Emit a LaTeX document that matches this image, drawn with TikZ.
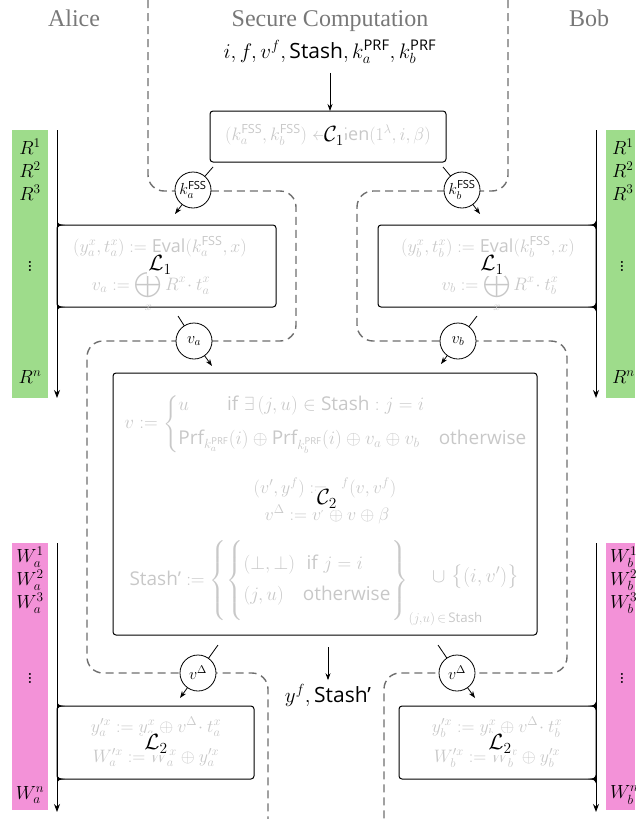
\RequirePackage{fix-cm}
\documentclass[tikz,border=0pt]{standalone}
\usepackage{amsmath,amssymb}
\usepackage{fontspec}
\newfontfamily\titlefont{Liberation Serif}
\newfontfamily\sanfont{Open Sans}
\usetikzlibrary{arrows.meta,calc}
\newcommand{\sfx}[1]{\text{\sanfont #1}}
\definecolor{boxtext}{RGB}{200,200,200}
\definecolor{titlegray}{RGB}{120,120,120}
\definecolor{dashgray}{RGB}{110,110,110}
\definecolor{rgreen}{RGB}{158,220,139}
\definecolor{wpink}{RGB}{243,146,216}
\newcommand{\wedgeR}[2]{\fill (#1,#2-4.5) .. controls (#1+1.5,#2-0.8) .. (#1+8,#2) .. controls (#1+1.5,#2+0.8) .. (#1,#2+4.5) -- cycle;}
\newcommand{\wedgeL}[2]{\fill (#1,#2-4.5) .. controls (#1-1.5,#2-0.8) .. (#1-8,#2) .. controls (#1-1.5,#2+0.8) .. (#1,#2+4.5) -- cycle;}
\begin{document}
\begin{tikzpicture}[x=1pt,y=-1pt,
  every node/.style={inner sep=0pt, outer sep=0pt},
  title/.style={font=\titlefont\fontsize{24}{28}\selectfont, text=titlegray, anchor=base},
  mth/.style={font=\fontsize{21}{25}\selectfont},
  box/.style={draw=black, line width=1pt, rounded corners=3pt},
  gtext/.style={text=boxtext, font=\fontsize{18}{22}\selectfont, anchor=base},
  lbl/.style={fill=white, inner sep=1.5pt, font=\fontsize{22}{26}\selectfont},
  circ/.style={circle, draw=black, line width=0.8pt, fill=white, minimum size=36pt, font=\fontsize{16}{19}\selectfont},
  dsh/.style={draw=dashgray, line width=1.4pt, dash pattern=on 8pt off 5pt, rounded corners=16pt},
  arr/.style={-{Stealth[length=7pt,width=5pt]}, line width=0.8pt},
  con/.style={line width=0.8pt},
  vline/.style={-{Stealth[length=8pt,width=6pt]}, line width=1pt},
  side/.style={font=\fontsize{19}{23}\selectfont, anchor=center},
  dots/.style={font=\fontsize{25}{30}\selectfont, anchor=center}
]
\useasboundingbox (0,0) rectangle (635,819);

% side bars
\fill[rgreen] (12,130) rectangle (48,398);
\fill[rgreen] (606,130) rectangle (635,398);
\fill[wpink] (12,543) rectangle (48,810);
\fill[wpink] (606,543) rectangle (635,810);

% titles
\node[title] (alice) at (74,26) {Alice};
\node[title] (sc) at (330,26) {Secure Computation};
\node[title] (bob) at (589,26) {Bob};

% dashed separators
\draw[dsh] (148,0) -- (148,191) -- (296,191) -- (296,341) -- (87,341) -- (87,673) -- (268,673) -- (268,819);
\draw[dsh] (508,0) -- (508,191) -- (357,191) -- (357,341) -- (567,341) -- (567,673) -- (384,673) -- (384,819);

% input
\node[mth, anchor=base] (inp) at (330,58) {$i, f, v^f, \sfx{Stash}, k_a^{\sfx{PRF}}, k_b^{\sfx{PRF}}$};

% C1
\node[box, minimum width=236pt, minimum height=51pt] (c1) at (328,136.5) {};
\node[gtext] (c1t) at (328,140) {$(k_a^{\sfx{FSS}},k_b^{\sfx{FSS}}) \leftarrow \sfx{Gen}(1^\lambda,i,\beta)$};
\node[lbl] (c1l) at (334,136) {$\mathcal{C}_1$};
\draw[arr] (inp.south) ++(0,9) -- (inp.south |- c1.north);

% L1 left
\node[box, minimum width=219pt, minimum height=82pt] (l1a) at (166.5,266) {};
\node[gtext] (l1at1) at (160,252) {$(y_a^x,t_a^x) := \sfx{Eval}(k_a^{\sfx{FSS}},x)$};
\node[gtext] (l1at2) at (151,290) {$v_a := \displaystyle\bigoplus_x R^x\!\cdot t_a^x$};
\node[lbl] (l1al) at (160,265) {$\mathcal{L}_1$};

% L1 right
\node[box, minimum width=218pt, minimum height=82pt] (l1b) at (487,266) {};
\node[gtext] (l1bt1) at (488,252) {$(y_b^x,t_b^x) := \sfx{Eval}(k_b^{\sfx{FSS}},x)$};
\node[gtext] (l1bt2) at (500,290) {$v_b := \displaystyle\bigoplus_x R^x\!\cdot t_b^x$};
\node[lbl] (l1bl) at (492,265) {$\mathcal{L}_1$};

% C2
\node[box, minimum width=424pt, minimum height=262pt] (c2) at (325,504) {};
\node[text=boxtext, font=\fontsize{19}{23}\selectfont] (c2t1) at (326,424) {$v := \left\{\begin{array}{@{}l@{}} u\qquad \sfx{if}\ \exists\,(j,u)\in\sfx{Stash} : j=i\\[11pt] \sfx{Prf}_{k_a^{\sfx{PRF}}}(i)\oplus\sfx{Prf}_{k_b^{\sfx{PRF}}}(i)\oplus v_a\oplus v_b\quad \sfx{otherwise}\end{array}\right.$};
\node[gtext] (c2t2) at (325,493) {$(v',y^f) := \phantom{\sfx{F}}^f(v,v^f)$};
\node[gtext] (c2t3) at (327,520) {$v^\Delta := v'\oplus v\oplus\beta$};
\node[text=boxtext, font=\fontsize{19}{23}\selectfont, anchor=east] (c2t4) at (409,583) {$\sfx{Stash’} := \left\{\left\{\vrule height 36pt depth 36pt width 0pt\begin{array}{@{}l@{}} (\bot,\bot)\ \ \sfx{if}\ j=i\\[8pt] (j,u)\quad \sfx{otherwise}\end{array}\right.\right\}_{\rlap{$\scriptstyle (j,u)\,\in\,\sfx{Stash}$}}$};
\node[text=boxtext, font=\fontsize{20}{24}\selectfont, anchor=west] (c2t5) at (432,577) {$\cup\ \bigl\{(i,v')\bigr\}$};
\node[lbl] (c2l) at (327,499) {$\mathcal{C}_2$};

% output
\node[mth, anchor=base] (out) at (328,702) {$y^f, \sfx{Stash’}$};
\draw[arr] (out.north |- c2.south) ++(0,12) -- ([yshift=4pt]out.north);

% L2 left
\node[box, minimum width=197pt, minimum height=73pt] (l2a) at (155.5,742.5) {};
\node[gtext] (l2at1) at (156,732) {$y_a^{\prime x} := y_a^x\oplus v^\Delta\!\cdot t_a^x$};
\node[gtext] (l2at2) at (156,762) {$W_a^{\prime x} := W_a^x\oplus y_a^{\prime x}$};
\node[lbl] (l2al) at (156,744) {$\mathcal{L}_2$};

% L2 right
\node[box, minimum width=197pt, minimum height=73pt] (l2b) at (497.5,742.5) {};
\node[gtext] (l2bt1) at (497,732) {$y_b^{\prime x} := y_b^x\oplus v^\Delta\!\cdot t_b^x$};
\node[gtext] (l2bt2) at (497,762) {$W_b^{\prime x} := W_b^x\oplus y_b^{\prime x}$};
\node[lbl] (l2bl) at (500,744) {$\mathcal{L}_2$};

% vertical timelines
\coordinate (ra0) at (57,130); \coordinate (ra1) at (57,398);
\coordinate (rb0) at (596,130); \coordinate (rb1) at (596,398);
\coordinate (wa0) at (57,543); \coordinate (wa1) at (57,812);
\coordinate (wb0) at (596,543); \coordinate (wb1) at (596,812);
\draw[vline] (ra0) -- (ra1);
\draw[vline] (rb0) -- (rb1);
\draw[vline] (wa0) -- (wa1);
\draw[vline] (wb0) -- (wb1);
\wedgeR{57}{225} \wedgeR{57}{307}
\wedgeL{596}{225} \wedgeL{596}{307}
\wedgeR{57}{706} \wedgeR{57}{779}
\wedgeL{596}{706} \wedgeL{596}{779}

% side labels
\node[side] (ar1) at (30,147) {$R^1$};
\node[side] (ar2) at (30,170) {$R^2$};
\node[side] (ar3) at (30,193) {$R^3$};
\node[dots] (ard) at (30,263) {$\vdots$};
\node[side] (arn) at (30,377) {$R^n$};
\node[side, anchor=west] (br1) at (612,147) {$R^1$};
\node[side, anchor=west] (br2) at (612,170) {$R^2$};
\node[side, anchor=west] (br3) at (612,193) {$R^3$};
\node[dots] (brd) at (622,263) {$\vdots$};
\node[side, anchor=west] (brn) at (612,377) {$R^n$};

\node[side] (aw1) at (30,557) {$W_a^1$};
\node[side] (aw2) at (30,580) {$W_a^2$};
\node[side] (aw3) at (30,603) {$W_a^3$};
\node[dots] (awd) at (30,675) {$\vdots$};
\node[side] (awn) at (30,795) {$W_a^n$};
\node[side, anchor=west] (bw1) at (610,557) {$W_b^1$};
\node[side, anchor=west] (bw2) at (610,580) {$W_b^2$};
\node[side, anchor=west] (bw3) at (610,603) {$W_b^3$};
\node[dots] (bwd) at (622,675) {$\vdots$};
\node[side, anchor=west] (bwn) at (610,795) {$W_b^n$};

% message circles
\node[circ] (ka) at (193,190) {$k_a^{\sfx{FSS}}$};
\node[circ] (kb) at (462,190) {$k_b^{\sfx{FSS}}$};
\node[circ] (va) at (194,341) {$v_a$};
\node[circ] (vb) at (458,341) {$v_b$};
\node[circ] (vda) at (198,673) {$v^\Delta$};
\node[circ] (vdb) at (457,673) {$v^\Delta$};
\coordinate (kain) at (213,167); \coordinate (kaout) at (175,214);
\coordinate (kbin) at (443,167); \coordinate (kbout) at (480,214);
\coordinate (vain) at (178,316); \coordinate (vaout) at (212,366);
\coordinate (vbin) at (477,316); \coordinate (vbout) at (441,364);
\coordinate (vdain) at (218,645); \coordinate (vdaout) at (180,698);
\coordinate (vdbin) at (438,645); \coordinate (vdbout) at (475,698);
\draw[con] (kain) -- (ka); \draw[arr] (ka) -- (kaout);
\draw[con] (kbin) -- (kb); \draw[arr] (kb) -- (kbout);
\draw[con] (vain) -- (va); \draw[arr] (va) -- (vaout);
\draw[con] (vbin) -- (vb); \draw[arr] (vb) -- (vbout);
\draw[con] (vdain) -- (vda); \draw[arr] (vda) -- (vdaout);
\draw[con] (vdbin) -- (vdb); \draw[arr] (vdb) -- (vdbout);
\end{tikzpicture}
\end{document}
